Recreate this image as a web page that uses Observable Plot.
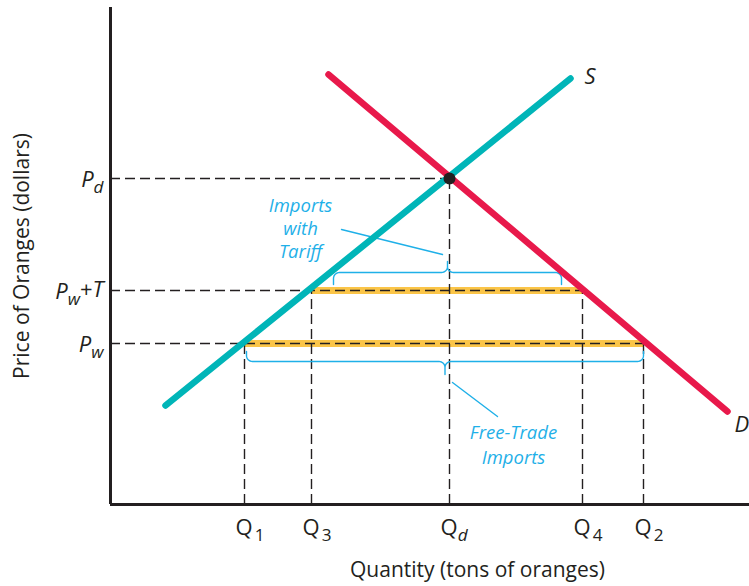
<!DOCTYPE html>
<html>
<head>
<meta charset="utf-8">
<script src="https://cdn.jsdelivr.net/npm/d3@7"></script>
<script src="https://cdn.jsdelivr.net/npm/@observablehq/plot@0.6"></script>
<style>
  html, body { margin: 0; padding: 0; background: #fff; }
  svg { font-family: "Open Sans", Lato, sans-serif; }
</style>
</head>
<body>
<div id="chart"></div>
<script>
// ---- Data (abstract quantity / price units) ----
const supplyLine = [{q: 55, p: 99}, {q: 460, p: 426}];
const demandLine = [{q: 218, p: 430}, {q: 617, p: 93}];

const priceLevels = [
  {key: "Pd",  main: "P", sub: "d", suffix: "",   p: 326, qEnd: 339},
  {key: "PwT", main: "P", sub: "w", suffix: "+T", p: 214, qEnd: 472},
  {key: "Pw",  main: "P", sub: "w", suffix: "",   p: 161, qEnd: 533}
];
const quantityLevels = [
  {main: "Q", sub: "1", q: 134, pEnd: 161},
  {main: "Q", sub: "3", q: 201, pEnd: 214},
  {main: "Q", sub: "d", q: 339, pEnd: 326},
  {main: "Q", sub: "4", q: 472, pEnd: 214},
  {main: "Q", sub: "2", q: 533, pEnd: 161}
];
const importBands = [
  {name: "tariff", q1: 201, q2: 472, p: 214},
  {name: "free",   q1: 134, q2: 533, p: 161}
];
const equilibrium = [{q: 339, p: 326}];
const curveLabels = [{t: "S", q: 474, p: 428}, {t: "D", q: 624, p: 80}];
const annotationText = [
  {t: "Imports",    q: 190, p: 298},
  {t: "with",       q: 190, p: 275},
  {t: "Tariff",     q: 190, p: 252},
  {t: "Free-Trade", q: 403, p: 71},
  {t: "Imports",    q: 403, p: 46}
];
// brace specs: from q1 to q2 at price level p, dir +1 above, -1 below
const braces = [
  {q1: 223, q2: 451, p: 220, dir: 1,  h: 12, tipH: 11},
  {q1: 136, q2: 533, p: 153, dir: -1, h: 10, tipH: 13}
];
const leaders = [
  {name: "tariff", pts: [{q: 231, p: 275}, {q: 332, p: 250}]},
  {name: "free",   pts: [{q: 342, p: 122}, {q: 387, p: 88}]}
];

// ---- Colors ----
const teal = "#00b5b8", red = "#e8194b", orange = "#fbc548", blue = "#1fb0e8", ink = "#231f20";

// brace path points (rounded with small arcs)
function bracePoints(b) {
  const pts = [];
  const r = 6, mid = (b.q1 + b.q2) / 2;
  const yL = b.p + b.dir * b.h; // horizontal line level
  const arc = (cx, cy, a0, a1) => {
    for (let i = 0; i <= 8; i++) {
      const a = a0 + (a1 - a0) * i / 8;
      pts.push({q: cx + r * Math.cos(a), p: cy + r * Math.sin(a)});
    }
  };
  const s = b.dir;
  pts.push({q: b.q1, p: b.p});
  arc(b.q1 + r, yL - s * r, Math.PI, s > 0 ? Math.PI / 2 : 3 * Math.PI / 2);
  arc(mid - r, yL + s * r, s > 0 ? -Math.PI / 2 : Math.PI / 2, 0);
  pts.push({q: mid, p: yL + s * b.tipH});
  arc(mid + r, yL + s * r, Math.PI, s > 0 ? 3 * Math.PI / 2 : Math.PI / 2);
  arc(b.q2 - r, yL - s * r, s > 0 ? Math.PI / 2 : -Math.PI / 2, 0);
  pts.push({q: b.q2, p: b.p});
  return pts;
}

const dash = "10,5";

const chart = Plot.plot({
  width: 749,
  height: 586,
  marginLeft: 110,
  marginRight: 0,
  marginTop: 7,
  marginBottom: 82,
  x: {domain: [0, 639], axis: null},
  y: {domain: [0, 497], axis: null},
  style: {fontFamily: "'Open Sans', Lato, sans-serif", background: "#fff"},
  marks: [
    // orange import bands
    Plot.ruleY(importBands, {y: "p", x1: "q1", x2: "q2", stroke: orange, strokeWidth: 7}),
    // dashed guides
    Plot.ruleY(priceLevels, {y: "p", x1: 0, x2: "qEnd", stroke: ink, strokeWidth: 1.4, strokeDasharray: dash}),
    Plot.ruleX(quantityLevels, {x: "q", y1: 0, y2: "pEnd", stroke: ink, strokeWidth: 1.4, strokeDasharray: dash}),
    // braces
    ...braces.map(b => Plot.line(bracePoints(b), {x: "q", y: "p", stroke: blue, strokeWidth: 1.4, curve: "linear"})),
    ...leaders.map(l => Plot.line(l.pts, {x: "q", y: "p", stroke: blue, strokeWidth: 1.4})),
    // supply & demand
    Plot.line(supplyLine, {x: "q", y: "p", stroke: teal, strokeWidth: 6.5}),
    Plot.line(demandLine, {x: "q", y: "p", stroke: red, strokeWidth: 6.5}),
    Plot.dot(equilibrium, {x: "q", y: "p", r: 6, fill: ink}),
    // axes
    Plot.ruleX([0], {stroke: ink, strokeWidth: 3}),
    Plot.ruleY([0], {stroke: ink, strokeWidth: 3}),
    // curve labels
    Plot.text(curveLabels, {x: "q", y: "p", text: "t", fontSize: 22, fontStyle: "italic", fill: ink, textAnchor: "start"}),
    // annotations
    Plot.text(annotationText, {x: "q", y: "p", text: "t", fontSize: 18.5, fontStyle: "italic", fill: blue}),
    // price tick labels
    Plot.text(priceLevels, {x: 0, y: "p", text: d => `${d.main}_${d.sub}${d.suffix}`, textAnchor: "end", dx: -7, dy: 1, fontSize: 22, fontStyle: "italic", fill: ink}),
    // quantity tick labels
    Plot.text(quantityLevels, {x: "q", y: 0, text: d => `${d.main}_${d.sub}`, textAnchor: "start", dx: -9, dy: 23, fontSize: 22, fill: ink}),
    // axis titles
    Plot.text(["Price of Oranges (dollars)"], {frameAnchor: "left", textAnchor: "middle", dx: -88, rotate: -90, fontSize: 21, fill: ink}),
    Plot.text(["Quantity (tons of oranges)"], {x: 367, y: 0, dy: 66, fontSize: 21, fill: ink})
  ]
});

// turn "X_s..." labels into main + subscript tspans
d3.select(chart).selectAll("text").each(function() {
  const el = d3.select(this);
  const txt = el.text();
  const m = /^(.)_(.)(.*)$/.exec(txt);
  if (!m) return;
  el.text(null);
  const italicSub = /[a-z]/.test(m[2]);
  el.append("tspan").text(m[1]);
  el.append("tspan").attr("dx", italicSub ? "0" : "0.12em").attr("dy", "0.35em").attr("font-size", "0.78em")
    .attr("font-style", italicSub ? "italic" : "normal").text(m[2]);
  if (m[3]) {
    const t = el.append("tspan").attr("dy", "-0.35em");
    t.append("tspan").attr("font-style", "normal").text(m[3][0]);
    if (m[3].length > 1) t.append("tspan").attr("font-style", "italic").text(m[3].slice(1));
  }
});

document.getElementById("chart").appendChild(chart);
</script>
</body>
</html>
